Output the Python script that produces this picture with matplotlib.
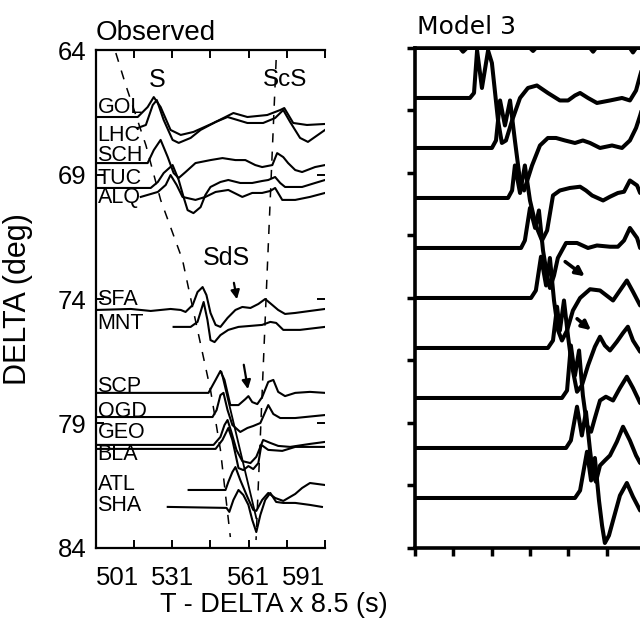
import matplotlib
matplotlib.use("Agg")
import matplotlib.pyplot as plt

plt.rcParams['font.family'] = ['Liberation Sans', 'DejaVu Sans']

# ---------------- Observed (left panel) ----------------
x_ticks = [501, 516, 531, 546, 561, 576, 591]
x_ticklabels = ['501', '', '531', '', '561', '', '591']
y_ticks = [64, 69, 74, 79, 84]

GOL_t = [501.8, 517.4, 521.3, 523.7, 526.4, 530.3, 534.3, 539.3, 547.2, 555.0, 560.5, 568.3, 573.4, 575.0, 578.5, 583.9, 591.0]
GOL_d = [66.69, 66.69, 66.29, 65.89, 66.29, 67.21, 67.41, 67.29, 66.93, 66.53, 66.69, 66.61, 66.41, 66.33, 66.93, 67.01, 66.97]

LHC_t = [517.4, 520.6, 523.3, 524.9, 527.6, 531.1, 533.5, 538.2, 542.1, 548.0, 552.7, 560.5, 566.7, 571.4, 574.6, 577.3, 581.2, 584.3, 591.0]
LHC_d = [67.13, 67.01, 66.21, 66.01, 66.81, 67.61, 67.73, 67.53, 67.21, 66.89, 66.69, 66.93, 66.93, 66.73, 66.41, 66.89, 67.53, 67.69, 67.21]

SCH_t = [501.8, 521.3, 523.7, 526.4, 529.2, 531.5, 533.5, 536.2, 540.1, 546.0, 550.7, 555.8, 559.7, 563.6, 566.3, 570.3, 572.2, 574.6, 576.5, 579.3, 582.0, 587.1, 591.0]
SCH_d = [68.54, 68.54, 68.02, 67.61, 68.30, 68.94, 69.14, 68.90, 68.54, 68.42, 68.34, 68.42, 68.42, 68.62, 68.70, 68.62, 68.14, 68.30, 68.54, 68.82, 68.90, 68.70, 68.62]

TUC_t = [501.8, 522.5, 525.3, 527.6, 531.1, 533.5, 535.4, 537.0, 539.3, 542.1, 544.0, 546.0, 549.9, 553.0, 557.7, 562.4, 566.3, 568.7, 571.4, 573.4, 575.3, 582.0, 587.1, 591.0]
TUC_d = [69.54, 69.54, 69.30, 68.94, 68.62, 69.22, 69.90, 70.43, 70.55, 70.31, 69.82, 69.50, 69.30, 69.22, 69.34, 69.34, 69.26, 69.22, 69.10, 69.34, 69.50, 69.50, 69.34, 69.22]

ALQ_t = [518.6, 525.3, 528.4, 530.3, 532.7, 535.0, 540.1, 544.0, 548.0, 553.0, 558.5, 562.4, 566.3, 569.5, 571.4, 574.2, 579.3, 585.1, 591.0]
ALQ_d = [69.90, 69.70, 69.42, 69.02, 69.42, 69.90, 70.02, 69.90, 69.70, 69.62, 69.90, 69.74, 69.74, 69.66, 69.54, 70.02, 70.02, 69.90, 69.74]

SFA_t = [501.0, 514.7, 522.5, 530.3, 534.3, 536.2, 539.0, 540.9, 542.9, 544.4, 546.0, 548.0, 549.9, 552.7, 555.8, 558.5, 561.7, 564.8, 567.5, 570.3, 572.6, 575.3, 579.3, 585.1, 591.0]
SFA_d = [74.44, 74.40, 74.48, 74.40, 74.44, 74.52, 74.24, 73.72, 73.52, 73.84, 74.56, 75.04, 75.12, 74.76, 74.44, 74.32, 74.36, 74.20, 74.00, 74.24, 74.44, 74.60, 74.56, 74.48, 74.40]

MNT_t = [531.5, 538.2, 540.9, 543.3, 544.8, 546.0, 547.6, 549.9, 553.0, 557.0, 561.7, 566.3, 569.5, 571.8, 574.6, 581.2, 591.0]
MNT_d = [75.12, 75.12, 74.92, 74.12, 74.84, 75.65, 75.73, 75.45, 75.24, 75.12, 75.08, 75.04, 74.92, 74.96, 75.24, 75.24, 75.12]

SCP_t = [501.8, 545.2, 548.0, 549.9, 551.5, 553.8, 557.0, 559.7, 560.9, 562.4, 564.4, 566.3, 568.7, 570.7, 572.6, 575.3, 579.3, 585.1, 591.0]
SCP_d = [77.77, 77.77, 77.25, 76.89, 77.25, 78.26, 78.26, 78.02, 77.90, 78.14, 78.22, 77.94, 77.33, 77.25, 77.73, 77.90, 77.77, 77.73, 77.77]

OGD_t = [501.8, 546.8, 548.4, 549.9, 551.1, 552.7, 554.6, 557.7, 560.5, 562.8, 565.6, 567.5, 568.7, 570.7, 573.4, 579.3, 591.0]
OGD_d = [78.74, 78.74, 78.46, 77.86, 77.77, 78.46, 79.06, 79.34, 79.18, 79.10, 78.98, 78.54, 78.26, 78.62, 78.78, 78.78, 78.66]

GEO_t = [501.8, 547.2, 549.9, 551.5, 552.7, 554.2, 556.2, 558.5, 561.7, 564.0, 566.7, 569.5, 572.6, 577.3, 585.1, 591.0]
GEO_d = [79.86, 79.86, 79.54, 79.06, 78.86, 79.34, 80.06, 80.51, 80.59, 80.34, 79.66, 79.78, 79.90, 79.94, 79.82, 79.74]

BLA_t = [501.8, 548.0, 550.7, 553.0, 554.6, 557.0, 558.9, 560.9, 562.8, 564.8, 566.0, 568.7, 574.2, 579.3, 591.0]
BLA_d = [80.02, 80.02, 79.66, 79.18, 79.66, 80.79, 80.87, 80.71, 80.83, 80.59, 79.86, 80.06, 80.10, 79.94, 79.94]

ATL_t = [537.4, 551.9, 553.0, 554.6, 555.8, 557.7, 560.5, 562.8, 564.0, 566.3, 568.7, 571.4, 574.6, 579.3, 582.0, 585.1, 591.0]
ATL_d = [81.67, 81.67, 81.35, 80.95, 80.75, 81.27, 81.95, 82.47, 82.51, 82.07, 81.79, 81.99, 82.11, 81.83, 81.59, 81.39, 81.47]

SHA_t = [529.2, 552.3, 553.4, 555.0, 557.0, 558.9, 560.9, 562.4, 564.0, 565.6, 567.5, 569.5, 571.8, 574.6, 579.3, 585.1, 589.8]
SHA_d = [82.35, 82.39, 82.55, 82.07, 81.67, 81.87, 82.27, 82.87, 83.36, 82.67, 82.07, 81.79, 82.15, 82.19, 82.19, 82.27, 82.35]

stations = ['GOL', 'LHC', 'SCH', 'TUC', 'ALQ', 'SFA', 'MNT', 'SCP', 'OGD', 'GEO', 'BLA', 'ATL', 'SHA']
station_label_d = [66.29, 67.45, 68.22, 69.14, 69.94, 74.0, 75.0, 77.53, 78.50, 79.38, 80.26, 81.47, 82.31]

# travel-time curves (dashed) and solid S line
S_curve_t = [508.8, 512.7, 520.6, 526.4, 535.0, 538.1, 546.0, 549.9, 553.8]
S_curve_d = [64.12, 65.41, 67.82, 70.02, 72.43, 73.92, 77.65, 80.06, 83.56]
ScS_curve_t = [571.8, 568.3, 563.9]
ScS_curve_d = [64.4, 72.84, 83.68]
S_solid_t = [550.3, 564.0]
S_solid_d = [76.93, 82.80]

# ---------------- Model 3 (right panel) ----------------
M64_t = [501.0, 518.6, 519.8, 521.3, 546.0, 547.2, 548.3, 569.5, 570.7, 571.8, 585.1, 586.3, 587.5, 591.4]
M64_d = [64.0, 64.0, 64.15, 64.0, 64.0, 64.12, 64.0, 64.0, 64.15, 64.0, 64.0, 64.18, 64.0, 64.0]

M66_t = [501.0, 522.5, 524.1, 525.3, 527.2, 529.6, 531.1, 533.5, 535.0, 536.6, 539.0, 542.1, 545.2, 548.7, 553.0, 557.7, 560.9, 563.6, 565.6, 568.7, 572.2, 577.3, 582.0, 585.1, 587.5, 589.1, 591.4]
M66_d = [66.0, 66.0, 65.8, 64.1, 65.6, 64.1, 64.6, 66.9, 67.8, 67.7, 66.9, 66.0, 65.6, 65.5, 65.8, 66.1, 66.1, 65.9, 65.8, 66.0, 66.2, 66.1, 66.0, 66.1, 65.7, 65.1, 64.3]

M68_t = [501.0, 531.1, 532.7, 534.3, 536.2, 538.2, 540.1, 542.1, 543.7, 546.8, 549.9, 553.0, 556.2, 559.7, 563.6, 566.7, 569.5, 573.4, 578.1, 582.0, 585.1, 587.5, 589.1, 591.4]
M68_d = [68.0, 68.0, 67.7, 66.1, 67.1, 66.1, 67.7, 69.3, 69.7, 68.7, 67.9, 67.6, 67.6, 67.7, 67.8, 67.7, 67.8, 68.0, 67.9, 68.0, 67.7, 67.2, 66.7, 65.9]

M70_t = [501.0, 537.4, 539.0, 540.1, 542.1, 544.0, 546.0, 548.3, 550.7, 552.7, 555.0, 557.7, 561.6, 565.6, 567.9, 570.3, 574.6, 577.3, 580.4, 582.8, 585.1, 587.9, 589.1, 591.4]
M70_d = [70.0, 70.0, 69.7, 68.7, 69.8, 68.7, 70.1, 71.1, 71.7, 71.3, 69.9, 69.7, 69.6, 69.55, 69.7, 69.9, 70.1, 69.95, 69.8, 69.75, 69.3, 69.5, 69.8, 69.3]

M72_t = [501.0, 542.5, 544.0, 546.0, 548.0, 549.5, 551.1, 552.7, 553.8, 555.4, 556.9, 560.1, 564.4, 568.7, 572.2, 577.3, 580.4, 582.8, 585.1, 587.9, 589.1, 591.4]
M72_d = [72.0, 72.0, 71.7, 70.4, 71.2, 70.5, 72.1, 73.1, 73.6, 73.1, 72.4, 71.8, 71.8, 72.0, 71.9, 71.95, 71.95, 71.7, 71.2, 71.6, 72.0, 71.5]

M74_t = [501.0, 546.4, 548.3, 550.3, 552.3, 553.8, 555.4, 557.0, 558.5, 560.5, 562.8, 565.6, 569.5, 573.4, 578.5, 581.2, 583.9, 586.3, 589.1, 591.4]
M74_d = [74.0, 74.0, 73.7, 72.35, 73.5, 72.4, 74.1, 75.3, 75.7, 75.3, 74.5, 74.0, 73.65, 73.7, 74.1, 73.7, 73.3, 73.75, 74.3, 74.1]

M76_t = [501.0, 553.0, 555.0, 556.6, 557.7, 559.3, 560.9, 562.4, 564.4, 566.3, 568.7, 571.4, 573.4, 575.3, 577.3, 580.0, 582.4, 584.3, 586.3, 589.1, 591.4]
M76_d = [76.0, 76.0, 75.7, 74.35, 75.3, 74.1, 75.55, 76.7, 77.75, 77.5, 76.7, 75.95, 75.55, 75.9, 76.1, 75.75, 75.4, 75.15, 75.7, 76.15, 75.9]

M78_t = [501.0, 558.5, 560.5, 562.0, 563.6, 565.2, 566.7, 568.3, 569.9, 571.4, 573.4, 575.7, 578.5, 581.2, 583.9, 586.3, 589.1, 591.4]
M78_d = [78.0, 78.0, 77.7, 75.9, 77.1, 76.1, 77.9, 79.1, 79.35, 78.8, 78.1, 77.95, 78.1, 77.6, 77.15, 77.6, 78.2, 78.1]

M80_t = [501.0, 560.1, 562.0, 564.4, 566.3, 567.9, 569.5, 570.7, 571.8, 573.4, 575.3, 577.3, 580.0, 582.4, 585.1, 587.5, 589.1, 591.4]
M80_d = [80.0, 80.0, 79.7, 78.35, 79.5, 78.55, 80.1, 81.1, 81.35, 80.7, 80.5, 80.3, 79.75, 79.15, 79.7, 80.3, 80.6, 80.3]

M82_t = [501.0, 563.6, 565.6, 568.3, 569.9, 571.4, 573.0, 574.2, 575.3, 576.9, 578.5, 581.2, 583.9, 586.3, 589.1, 591.4]
M82_d = [82.0, 82.0, 81.7, 80.15, 81.3, 80.4, 82.1, 83.1, 83.8, 83.5, 82.9, 81.9, 81.4, 81.95, 82.5, 82.1]

model_arrow_start_t = [558.9, 563.6]
model_arrow_start_d = [72.48, 74.76]
model_arrow_end_t = [568.3, 570.7]
model_arrow_end_d = [73.2, 75.36]

obs_arrow_start_t = [555.0, 558.9]
obs_arrow_start_d = [73.24, 76.53]
obs_arrow_end_t = [556.6, 560.9]
obs_arrow_end_d = [74.12, 77.73]

# ---------------- figure ----------------
fig = plt.figure(figsize=(6.4, 6.23), dpi=100)
ax1 = fig.add_axes([0.15, 0.1204, 0.3578, 0.7993])
ax2 = fig.add_axes([0.6484, 0.1204, 0.3594, 0.8026])

obs_traces = [(GOL_t, GOL_d), (LHC_t, LHC_d), (SCH_t, SCH_d), (TUC_t, TUC_d), (ALQ_t, ALQ_d),
              (SFA_t, SFA_d), (MNT_t, MNT_d), (SCP_t, SCP_d), (OGD_t, OGD_d), (GEO_t, GEO_d),
              (BLA_t, BLA_d), (ATL_t, ATL_d), (SHA_t, SHA_d)]
for t, d in obs_traces:
    ax1.plot(t, d, color='black', lw=1.5, solid_joinstyle='round')

ax1.plot(S_curve_t, S_curve_d, color='black', lw=1.1, dashes=(6, 6))
ax1.plot(ScS_curve_t, ScS_curve_d, color='black', lw=1.1, dashes=(6, 6))
ax1.plot(S_solid_t, S_solid_d, color='black', lw=1.3)

for name, d in zip(stations, station_label_d):
    ax1.text(501.6, d, name, fontsize=15.5, ha='left', va='center', color='black')

ax1.text(524.9, 65.2, 'S', fontsize=18, ha='center', va='center')
ax1.text(575.3, 65.2, 'ScS', fontsize=17.5, ha='center', va='center')
ax1.text(552.3, 72.35, 'SdS', fontsize=18, ha='center', va='center')

for x0, y0, x1, y1 in zip(obs_arrow_start_t, obs_arrow_start_d, obs_arrow_end_t, obs_arrow_end_d):
    ax1.annotate('', xy=(x1, y1), xytext=(x0, y0),
                 arrowprops=dict(arrowstyle='-|>', lw=1.6, color='black', mutation_scale=13))

ax1.set_xlim(501, 591)
ax1.set_ylim(84, 64)
ax1.set_xticks(x_ticks)
ax1.set_xticklabels(x_ticklabels, fontsize=18.5)
labs = ax1.get_xticklabels()
labs[0].set_ha('left')
labs[-1].set_ha('right')
ax1.set_yticks(y_ticks)
ax1.set_yticklabels([str(v) for v in y_ticks], fontsize=18.5)
ax1.tick_params(direction='in', top=True, right=True, length=6, width=1.4, pad=7)
ax1.tick_params(axis='x', pad=13)
for s in ['left', 'top', 'bottom']:
    ax1.spines[s].set_linewidth(1.6)
ax1.spines['right'].set_visible(False)
ax1.set_xlabel('T - DELTA x 8.5 (s)', fontsize=19.5)
ax1.xaxis.set_label_coords(0.777, -0.088)
ax1.set_ylabel('DELTA (deg)', fontsize=22, labelpad=18)
ax1.text(0.0, 1.008, 'Observed', transform=ax1.transAxes, fontsize=20, ha='left', va='bottom')

model_traces = [(M64_t, M64_d), (M66_t, M66_d), (M68_t, M68_d), (M70_t, M70_d), (M72_t, M72_d),
                (M74_t, M74_d), (M76_t, M76_d), (M78_t, M78_d), (M80_t, M80_d), (M82_t, M82_d)]
for t, d in model_traces:
    ax2.plot(t, d, color='black', lw=2.9, solid_joinstyle='round')

for x0, y0, x1, y1 in zip(model_arrow_start_t, model_arrow_start_d, model_arrow_end_t, model_arrow_end_d):
    ax2.annotate('', xy=(x1, y1), xytext=(x0, y0),
                 arrowprops=dict(arrowstyle='-|>', lw=2.6, color='black', mutation_scale=13))

ax2.set_xlim(501, 591)
ax2.set_ylim(84, 64)
ax2.set_xticks(x_ticks)
ax2.set_xticklabels([])
ax2.set_yticks([64 + 2.5 * i for i in range(9)])
ax2.set_yticklabels([])
ax2.tick_params(direction='out', length=6, width=2.5)
for s in ['left', 'top', 'bottom', 'right']:
    ax2.spines[s].set_linewidth(2.6)
ax2.text(0.01, 1.018, 'Model 3', transform=ax2.transAxes, fontsize=18, ha='left', va='bottom',
         family='DejaVu Sans')

fig.savefig('out.png', dpi=100)
